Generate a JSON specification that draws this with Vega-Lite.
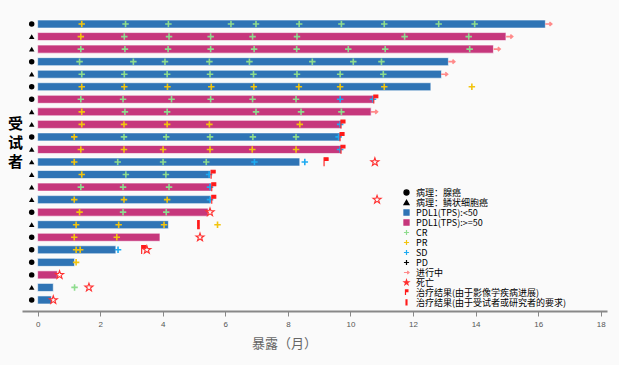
{
  "$schema": "https://vega.github.io/schema/vega-lite/v6.json",
  "width": 585,
  "height": 298,
  "autosize": {"type": "none"},
  "padding": {"left": 22, "top": 13, "right": 12, "bottom": 54},
  "background": "#fafafa",
  "config": {
    "view": {"stroke": null},
    "font": "Noto Sans CJK SC"
  },
  "datasets": {
    "bars": [
      {"subject": "01", "end": 16.23, "event": "PDL1(TPS):<50"},
      {"subject": "02", "end": 14.97, "event": "PDL1(TPS):>=50"},
      {"subject": "03", "end": 14.57, "event": "PDL1(TPS):>=50"},
      {"subject": "04", "end": 13.13, "event": "PDL1(TPS):<50"},
      {"subject": "05", "end": 12.91, "event": "PDL1(TPS):<50"},
      {"subject": "06", "end": 12.57, "event": "PDL1(TPS):<50"},
      {"subject": "07", "end": 10.74, "event": "PDL1(TPS):>=50"},
      {"subject": "08", "end": 10.66, "event": "PDL1(TPS):>=50"},
      {"subject": "09", "end": 9.71, "event": "PDL1(TPS):>=50"},
      {"subject": "10", "end": 9.67, "event": "PDL1(TPS):<50"},
      {"subject": "11", "end": 9.71, "event": "PDL1(TPS):>=50"},
      {"subject": "12", "end": 8.38, "event": "PDL1(TPS):<50"},
      {"subject": "13", "end": 5.53, "event": "PDL1(TPS):<50"},
      {"subject": "14", "end": 5.55, "event": "PDL1(TPS):>=50"},
      {"subject": "15", "end": 5.53, "event": "PDL1(TPS):<50"},
      {"subject": "16", "end": 5.45, "event": "PDL1(TPS):>=50"},
      {"subject": "17", "end": 4.18, "event": "PDL1(TPS):<50"},
      {"subject": "18", "end": 3.91, "event": "PDL1(TPS):>=50"},
      {"subject": "19", "end": 2.5, "event": "PDL1(TPS):<50"},
      {"subject": "20", "end": 1.18, "event": "PDL1(TPS):<50"},
      {"subject": "21", "end": 0.63, "event": "PDL1(TPS):>=50"},
      {"subject": "22", "end": 0.5, "event": "PDL1(TPS):<50"},
      {"subject": "23", "end": 0.44, "event": "PDL1(TPS):<50"}
    ],
    "pathology": [
      {"subject": "01", "event": "病理：腺癌"},
      {"subject": "02", "event": "病理：鳞状细胞癌"},
      {"subject": "03", "event": "病理：鳞状细胞癌"},
      {"subject": "04", "event": "病理：腺癌"},
      {"subject": "05", "event": "病理：鳞状细胞癌"},
      {"subject": "06", "event": "病理：腺癌"},
      {"subject": "07", "event": "病理：腺癌"},
      {"subject": "08", "event": "病理：鳞状细胞癌"},
      {"subject": "09", "event": "病理：鳞状细胞癌"},
      {"subject": "10", "event": "病理：腺癌"},
      {"subject": "11", "event": "病理：鳞状细胞癌"},
      {"subject": "12", "event": "病理：鳞状细胞癌"},
      {"subject": "13", "event": "病理：鳞状细胞癌"},
      {"subject": "14", "event": "病理：鳞状细胞癌"},
      {"subject": "15", "event": "病理：鳞状细胞癌"},
      {"subject": "16", "event": "病理：腺癌"},
      {"subject": "17", "event": "病理：鳞状细胞癌"},
      {"subject": "18", "event": "病理：腺癌"},
      {"subject": "19", "event": "病理：腺癌"},
      {"subject": "20", "event": "病理：腺癌"},
      {"subject": "21", "event": "病理：腺癌"},
      {"subject": "22", "event": "病理：鳞状细胞癌"},
      {"subject": "23", "event": "病理：腺癌"}
    ],
    "responses": [
      {"subject": "01", "month": 1.41, "event": "PR"},
      {"subject": "01", "month": 2.81, "event": "CR"},
      {"subject": "01", "month": 4.18, "event": "CR"},
      {"subject": "01", "month": 6.18, "event": "CR"},
      {"subject": "01", "month": 6.98, "event": "CR"},
      {"subject": "01", "month": 8.36, "event": "CR"},
      {"subject": "01", "month": 9.71, "event": "CR"},
      {"subject": "01", "month": 11.08, "event": "CR"},
      {"subject": "01", "month": 12.82, "event": "CR"},
      {"subject": "01", "month": 13.97, "event": "CR"},
      {"subject": "01", "month": 16.33, "event": "进行中"},
      {"subject": "02", "month": 1.38, "event": "PR"},
      {"subject": "02", "month": 2.77, "event": "CR"},
      {"subject": "02", "month": 4.2, "event": "CR"},
      {"subject": "02", "month": 5.53, "event": "CR"},
      {"subject": "02", "month": 6.87, "event": "CR"},
      {"subject": "02", "month": 8.29, "event": "CR"},
      {"subject": "02", "month": 11.73, "event": "CR"},
      {"subject": "02", "month": 13.78, "event": "CR"},
      {"subject": "02", "month": 15.08, "event": "进行中"},
      {"subject": "03", "month": 1.38, "event": "CR"},
      {"subject": "03", "month": 2.79, "event": "CR"},
      {"subject": "03", "month": 4.17, "event": "CR"},
      {"subject": "03", "month": 5.53, "event": "CR"},
      {"subject": "03", "month": 6.92, "event": "CR"},
      {"subject": "03", "month": 8.28, "event": "CR"},
      {"subject": "03", "month": 9.93, "event": "CR"},
      {"subject": "03", "month": 11.11, "event": "CR"},
      {"subject": "03", "month": 13.81, "event": "CR"},
      {"subject": "03", "month": 14.68, "event": "进行中"},
      {"subject": "04", "month": 1.34, "event": "CR"},
      {"subject": "04", "month": 3.06, "event": "CR"},
      {"subject": "04", "month": 4.07, "event": "CR"},
      {"subject": "04", "month": 5.49, "event": "CR"},
      {"subject": "04", "month": 6.77, "event": "CR"},
      {"subject": "04", "month": 8.78, "event": "CR"},
      {"subject": "04", "month": 10.09, "event": "CR"},
      {"subject": "04", "month": 10.99, "event": "CR"},
      {"subject": "04", "month": 13.23, "event": "进行中"},
      {"subject": "05", "month": 1.41, "event": "CR"},
      {"subject": "05", "month": 2.77, "event": "CR"},
      {"subject": "05", "month": 4.14, "event": "CR"},
      {"subject": "05", "month": 5.51, "event": "CR"},
      {"subject": "05", "month": 6.9, "event": "CR"},
      {"subject": "05", "month": 8.29, "event": "CR"},
      {"subject": "05", "month": 9.67, "event": "CR"},
      {"subject": "05", "month": 11.05, "event": "CR"},
      {"subject": "05", "month": 13.0, "event": "进行中"},
      {"subject": "06", "month": 1.41, "event": "PR"},
      {"subject": "06", "month": 2.77, "event": "PR"},
      {"subject": "06", "month": 4.15, "event": "PR"},
      {"subject": "06", "month": 5.55, "event": "PR"},
      {"subject": "06", "month": 6.91, "event": "PR"},
      {"subject": "06", "month": 8.35, "event": "PR"},
      {"subject": "06", "month": 9.67, "event": "PR"},
      {"subject": "06", "month": 11.08, "event": "PR"},
      {"subject": "06", "month": 13.88, "event": "PR"},
      {"subject": "07", "month": 1.38, "event": "CR"},
      {"subject": "07", "month": 2.73, "event": "CR"},
      {"subject": "07", "month": 4.28, "event": "CR"},
      {"subject": "07", "month": 5.53, "event": "CR"},
      {"subject": "07", "month": 6.87, "event": "CR"},
      {"subject": "07", "month": 8.26, "event": "CR"},
      {"subject": "07", "month": 9.67, "event": "SD"},
      {"subject": "07", "month": 10.72, "event": "SD"},
      {"subject": "08", "month": 1.41, "event": "PR"},
      {"subject": "08", "month": 2.79, "event": "CR"},
      {"subject": "08", "month": 4.14, "event": "CR"},
      {"subject": "08", "month": 6.98, "event": "CR"},
      {"subject": "08", "month": 8.42, "event": "CR"},
      {"subject": "08", "month": 9.71, "event": "CR"},
      {"subject": "08", "month": 10.76, "event": "进行中"},
      {"subject": "09", "month": 1.41, "event": "PR"},
      {"subject": "09", "month": 2.76, "event": "PR"},
      {"subject": "09", "month": 4.14, "event": "PR"},
      {"subject": "09", "month": 5.49, "event": "PR"},
      {"subject": "09", "month": 8.38, "event": "PR"},
      {"subject": "09", "month": 9.67, "event": "SD"},
      {"subject": "10", "month": 1.17, "event": "PR"},
      {"subject": "10", "month": 2.76, "event": "CR"},
      {"subject": "10", "month": 4.11, "event": "CR"},
      {"subject": "10", "month": 5.51, "event": "CR"},
      {"subject": "10", "month": 6.88, "event": "CR"},
      {"subject": "10", "month": 8.26, "event": "CR"},
      {"subject": "10", "month": 9.62, "event": "SD"},
      {"subject": "11", "month": 1.38, "event": "PR"},
      {"subject": "11", "month": 2.76, "event": "PR"},
      {"subject": "11", "month": 4.01, "event": "PR"},
      {"subject": "11", "month": 5.51, "event": "PR"},
      {"subject": "11", "month": 6.86, "event": "PR"},
      {"subject": "11", "month": 8.26, "event": "PR"},
      {"subject": "11", "month": 9.67, "event": "SD"},
      {"subject": "12", "month": 1.17, "event": "PR"},
      {"subject": "12", "month": 2.56, "event": "CR"},
      {"subject": "12", "month": 4.01, "event": "CR"},
      {"subject": "12", "month": 5.39, "event": "CR"},
      {"subject": "12", "month": 6.93, "event": "SD"},
      {"subject": "12", "month": 8.54, "event": "SD"},
      {"subject": "13", "month": 1.41, "event": "PR"},
      {"subject": "13", "month": 2.82, "event": "CR"},
      {"subject": "13", "month": 4.1, "event": "CR"},
      {"subject": "13", "month": 5.48, "event": "SD"},
      {"subject": "14", "month": 1.38, "event": "CR"},
      {"subject": "14", "month": 2.73, "event": "CR"},
      {"subject": "14", "month": 4.2, "event": "CR"},
      {"subject": "14", "month": 5.51, "event": "SD"},
      {"subject": "15", "month": 1.17, "event": "PR"},
      {"subject": "15", "month": 2.76, "event": "PR"},
      {"subject": "15", "month": 4.14, "event": "PR"},
      {"subject": "15", "month": 5.51, "event": "SD"},
      {"subject": "16", "month": 1.34, "event": "PR"},
      {"subject": "16", "month": 2.73, "event": "CR"},
      {"subject": "16", "month": 4.11, "event": "CR"},
      {"subject": "17", "month": 1.23, "event": "PR"},
      {"subject": "17", "month": 2.59, "event": "PR"},
      {"subject": "17", "month": 4.04, "event": "PR"},
      {"subject": "17", "month": 5.75, "event": "PR"},
      {"subject": "18", "month": 1.17, "event": "PR"},
      {"subject": "18", "month": 2.53, "event": "PR"},
      {"subject": "19", "month": 1.23, "event": "PR"},
      {"subject": "19", "month": 1.36, "event": "PR"},
      {"subject": "19", "month": 2.57, "event": "SD"},
      {"subject": "20", "month": 1.23, "event": "PR"},
      {"subject": "22", "month": 1.18, "event": "CR"}
    ],
    "outcomes": [
      {"subject": "07", "month": 10.8, "event": "治疗结果(由于影像学疾病进展)"},
      {"subject": "09", "month": 9.75, "event": "治疗结果(由于影像学疾病进展)"},
      {"subject": "10", "month": 9.72, "event": "治疗结果(由于影像学疾病进展)"},
      {"subject": "11", "month": 9.75, "event": "治疗结果(由于影像学疾病进展)"},
      {"subject": "12", "month": 9.21, "event": "治疗结果(由于影像学疾病进展)"},
      {"subject": "12", "month": 10.78, "event": "死亡"},
      {"subject": "13", "month": 5.6, "event": "治疗结果(由于影像学疾病进展)"},
      {"subject": "14", "month": 5.62, "event": "治疗结果(由于影像学疾病进展)"},
      {"subject": "15", "month": 5.62, "event": "治疗结果(由于影像学疾病进展)"},
      {"subject": "15", "month": 10.85, "event": "死亡"},
      {"subject": "16", "month": 5.51, "event": "死亡"},
      {"subject": "17", "month": 5.14, "event": "治疗结果(由于受试者或研究者的要求)"},
      {"subject": "18", "month": 5.19, "event": "死亡"},
      {"subject": "19", "month": 3.38, "event": "治疗结果(由于影像学疾病进展)"},
      {"subject": "19", "month": 3.49, "event": "死亡"},
      {"subject": "21", "month": 0.7, "event": "死亡"},
      {"subject": "22", "month": 1.64, "event": "死亡"},
      {"subject": "23", "month": 0.5, "event": "死亡"}
    ]
  },
  "encoding": {
    "y": {
      "field": "subject",
      "type": "ordinal",
      "sort": "ascending",
      "scale": {"paddingInner": 0.36, "paddingOuter": 0.56},
      "axis": {
        "title": ["受", "试", "者"],
        "titleAngle": 0,
        "titleFontSize": 15,
        "titleFontWeight": "bold",
        "titleColor": "#000000",
        "titleX": -7,
        "titleY": 103,
        "titleAlign": "center",
        "titleBaseline": "top",
        "titleLineHeight": 19,
        "labels": false,
        "ticks": false,
        "domain": false,
        "grid": false
      }
    }
  },
  "layer": [
    {
      "mark": {"type": "rule", "color": "#999999", "strokeWidth": 2},
      "encoding": {"x": {"datum": 0, "type": "quantitative"}, "y": null}
    },
    {
      "data": {"name": "bars"},
      "mark": {"type": "bar", "stroke": "#ffffff", "strokeOpacity": 0.6, "strokeWidth": 1},
      "encoding": {
        "x": {
          "field": "end",
          "type": "quantitative",
          "scale": {"domain": [-0.5, 18.2], "nice": false, "zero": false},
          "axis": {
            "values": [0, 2, 4, 6, 8, 10, 12, 14, 16, 18],
            "title": "暴露（月）",
            "titleFontSize": 13,
            "titleFontWeight": "normal",
            "titleColor": "#666666",
            "titleX": 262,
            "titleY": 32,
            "titleAlign": "center",
            "titleBaseline": "middle",
            "labelFont": "Liberation Sans",
            "labelFontSize": 8,
            "labelColor": "#555555",
            "labelPadding": 4,
            "tickColor": "#888888",
            "tickSize": 5,
            "domainColor": "#888888",
            "domainWidth": 2,
            "grid": false
          }
        },
        "x2": {"datum": 0},
        "color": {
          "field": "event",
          "type": "nominal",
          "scale": {
            "domain": ["病理：腺癌", "病理：鳞状细胞癌", "PDL1(TPS):<50", "PDL1(TPS):>=50", "CR", "PR", "SD", "PD", "进行中", "死亡", "治疗结果(由于影像学疾病进展)", "治疗结果(由于受试者或研究者的要求)"],
            "range": ["#000000", "#000000", "#2f74b5", "#c6377c", "#8edc8e", "#f2c40f", "#1eaaf1", "#000000", "#ff8a8a", "#ff3030", "#ff1a1a", "#ff1a1a"]
          }
        }
      }
    },
    {
      "data": {"name": "pathology"},
      "mark": {"type": "point", "filled": true, "size": 30, "opacity": 1},
      "encoding": {
        "x": {"datum": -0.19, "type": "quantitative"},
        "color": {"field": "event", "type": "nominal"},
        "shape": {"field": "event", "type": "nominal"}
      }
    },
    {
      "data": {"name": "responses"},
      "mark": {"type": "point", "filled": false, "size": 42, "strokeWidth": 1.6, "opacity": 1},
      "encoding": {
        "x": {"field": "month", "type": "quantitative"},
        "color": {"field": "event", "type": "nominal"},
        "shape": {"field": "event", "type": "nominal"}
      }
    },
    {
      "data": {"name": "outcomes"},
      "mark": {"type": "point", "filled": false, "size": 72, "strokeWidth": 1.1, "opacity": 1},
      "encoding": {
        "x": {"field": "month", "type": "quantitative"},
        "color": {
          "field": "event",
          "type": "nominal",
          "legend": {
            "title": null,
            "orient": "none",
            "direction": "vertical",
            "legendX": 380,
            "legendY": 175,
            "padding": 0,
            "rowPadding": -1.2,
            "symbolSize": 26,
            "symbolStrokeWidth": 1.2,
            "labelFontSize": 9,
            "labelOffset": 5,
            "labelLimit": 300,
            "encode": {
              "symbols": {
                "update": {
                  "size": {"signal": "datum.value == '死亡' ? 64 : (indexof(['治疗结果(由于影像学疾病进展)','治疗结果(由于受试者或研究者的要求)'], datum.value) >= 0 ? 42 : 26)"},
                  "fill": {"signal": "indexof(['病理：腺癌','病理：鳞状细胞癌','PDL1(TPS):<50','PDL1(TPS):>=50','治疗结果(由于影像学疾病进展)','治疗结果(由于受试者或研究者的要求)'], datum.value) >= 0 ? scale('color', datum.value) : 'transparent'"},
                  "stroke": {"signal": "scale('color', datum.value)"},
                  "strokeWidth": {"value": 1.1},
                  "opacity": {"value": 1}
                }
              },
              "labels": {
                "update": {
                  "fontSize": {"signal": "test(/^(PDL1|CR|PR|SD|PD)/, datum.label) ? 8 : 9"},
                  "fontWeight": {"signal": "test(/^(PDL1|CR|PR|SD|PD)/, datum.label) ? 'normal' : 'bold'"},
                  "fill": {"signal": "test(/^(PDL1|CR|PR|SD|PD)/, datum.label) ? '#666666' : '#000000'"}
                }
              }
            }
          }
        },
        "fill": {
          "condition": {"test": "datum.event != '死亡'", "value": "#ff1a1a"},
          "value": "transparent"
        },
        "shape": {
          "field": "event",
          "type": "nominal",
          "scale": {
            "domain": ["病理：腺癌", "病理：鳞状细胞癌", "PDL1(TPS):<50", "PDL1(TPS):>=50", "CR", "PR", "SD", "PD", "进行中", "死亡", "治疗结果(由于影像学疾病进展)", "治疗结果(由于受试者或研究者的要求)"],
            "range": [
              "circle",
              "triangle-up",
              "square",
              "square",
              "M-1,0H1M0,-1V1",
              "M-1,0H1M0,-1V1",
              "M-1,0H1M0,-1V1",
              "M-1,0H1M0,-1V1",
              "M-1,0H1M0.3,-0.6L1,0L0.3,0.6",
              "M0,-1L0.235,-0.324L0.951,-0.309L0.38,0.124L0.588,0.809L0,0.4L-0.588,0.809L-0.38,0.124L-0.951,-0.309L-0.235,-0.324Z",
              "M-0.4,1V-1H0.55V-0.35H-0.4",
              "M-0.18,-1H0.18V0.35H-0.18ZM-0.18,0.6H0.18V0.95H-0.18Z"
            ]
          }
        }
      }
    }
  ]
}
